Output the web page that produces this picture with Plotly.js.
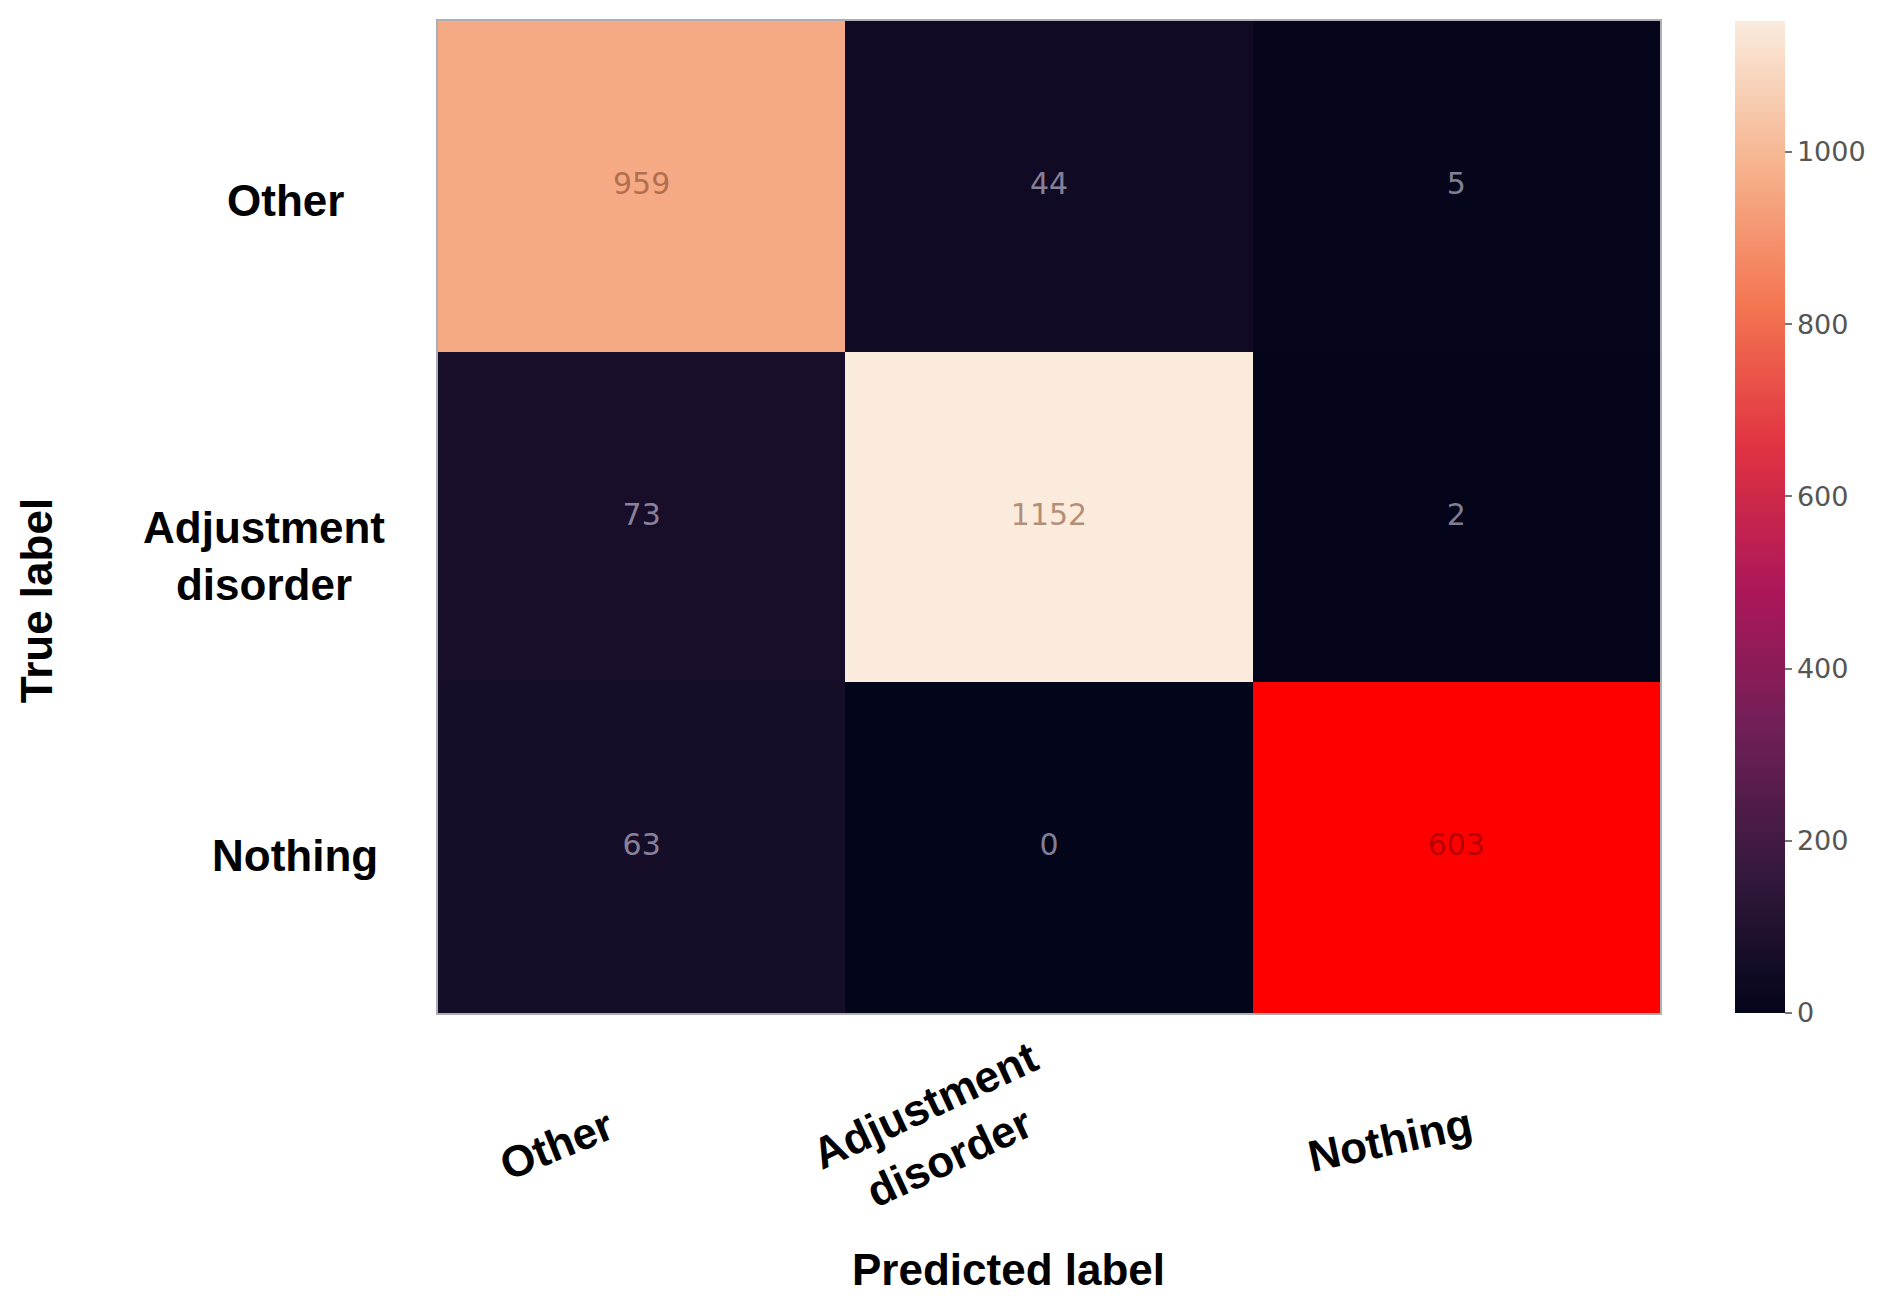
<!DOCTYPE html>
<html>
<head>
<meta charset="utf-8">
<script src="https://cdn.plot.ly/plotly-3.0.1.min.js"></script>
<style>
  body { margin: 0; background: #ffffff; }
  #chart { width: 1897px; height: 1300px; }
</style>
</head>
<body>
<div id="chart"></div>
<script>
// confusion matrix, rows = true label, cols = predicted label
const classes = ["Other", "Adjustment disorder", "Nothing"];
const rowOther = [959, 44, 5];
const rowAdjustment = [73, 1152, 2];
const rowNothing = [63, 0, 603];
const cbTicks = [0, 200, 400, 600, 800, 1000];

const counts = [rowOther, rowAdjustment, rowNothing];

// seaborn "rocket"
const rocket = [
  [0.0, "#03051a"],
  [0.143, "#35193e"],
  [0.286, "#701f57"],
  [0.429, "#ad1759"],
  [0.571, "#e13342"],
  [0.714, "#f37651"],
  [0.857, "#f6b48f"],
  [1.0, "#faebdd"]
];

const zmax = Math.max(...counts.flat());

const base = {
  type: "heatmap",
  x: classes,
  y: classes,
  z: counts,
  zmin: 0,
  zmax: zmax,
  colorscale: rocket,
  xgap: 0,
  ygap: 0,
  hoverinfo: "skip",
  colorbar: {
    x: 1.061,
    xanchor: "left",
    xpad: 0,
    y: 0.5,
    yanchor: "middle",
    ypad: 0,
    len: 1,
    lenmode: "fraction",
    thickness: 50,
    outlinewidth: 0,
    tickmode: "array",
    tickvals: cbTicks,
    ticks: "outside",
    ticklen: 7,
    tickwidth: 2,
    tickcolor: "#777",
    tickfont: { family: "DejaVu Sans", size: 27, color: "#555" }
  }
};

// the "Nothing" diagonal cell is shown in plain red in the figure
const redCell = {
  type: "heatmap",
  x: classes,
  y: classes,
  z: counts.map((row, i) => row.map((v, j) => (i === 2 && j === 2 ? v : null))),
  colorscale: [[0, "#ff0000"], [1, "#ff0000"]],
  showscale: false,
  hoverinfo: "skip"
};

// cell counts
const tx = [], ty = [], tt = [], tc = [];
counts.forEach((row, i) => {
  row.forEach((v, j) => {
    tx.push(classes[j]);
    ty.push(classes[i]);
    tt.push(String(v));
    if (v > 800) tc.push("rgba(120,60,30,0.55)");
    else if (v > 400) tc.push("rgba(90,0,0,0.45)");
    else tc.push("rgba(215,210,230,0.6)");
  });
});
const labels = {
  type: "scatter",
  mode: "text",
  x: tx,
  y: ty,
  text: tt,
  textposition: "middle center",
  textfont: { family: "DejaVu Sans", size: 30, color: tc },
  hoverinfo: "skip",
  showlegend: false
};

const labFont = { family: "Liberation Sans, Arial, sans-serif", size: 44, color: "#000" };

// tick labels placed as in the figure
const xLabText = ["Other", "Adjustment<br>disorder", "Nothing"];
const xShift = [-85, -112, -66];
const xLabY = [-0.133, -0.119, -0.128];
const xAngle = [-22, -25, -12];
const yLabText = ["Other", "Adjustment<br>disorder", "Nothing"];
const yLabShift = [-153, -174, -143];
const yLabDrop = [-14, -39, -8];

const annotations = [];
classes.forEach((c, i) => {
  annotations.push({
    xref: "x", yref: "paper", x: c, y: xLabY[i],
    xshift: xShift[i], xanchor: "center", yanchor: "middle",
    text: "<b>" + xLabText[i] + "</b>", textangle: xAngle[i],
    showarrow: false, font: labFont, align: "center"
  });
  annotations.push({
    xref: "paper", yref: "y", x: 0, y: c,
    xshift: yLabShift[i], yshift: yLabDrop[i],
    xanchor: "center", yanchor: "middle",
    text: "<b>" + yLabText[i] + "</b>",
    showarrow: false, font: labFont, align: "center"
  });
});
annotations.push({
  xref: "paper", yref: "paper", x: 0.467, y: -0.259,
  xanchor: "center", yanchor: "middle",
  text: "<b>Predicted label</b>", showarrow: false, font: labFont
});
annotations.push({
  xref: "paper", yref: "paper", x: -0.329, y: 0.416,
  xanchor: "center", yanchor: "middle", textangle: -90,
  text: "<b>True label</b>", showarrow: false, font: labFont
});

const layout = {
  width: 1897,
  height: 1300,
  margin: { l: 438, r: 237, t: 21, b: 287 },
  paper_bgcolor: "#ffffff",
  plot_bgcolor: "#ffffff",
  showlegend: false,
  xaxis: {
    type: "category",
    showticklabels: false,
    ticks: "",
    showgrid: false,
    zeroline: false,
    showline: true,
    mirror: true,
    linecolor: "rgba(140,140,150,0.7)",
    linewidth: 2
  },
  yaxis: {
    type: "category",
    autorange: "reversed",
    showticklabels: false,
    ticks: "",
    showgrid: false,
    zeroline: false,
    showline: true,
    mirror: true,
    linecolor: "rgba(140,140,150,0.7)",
    linewidth: 2
  },
  annotations: annotations
};

Plotly.newPlot("chart", [base, redCell, labels], layout, { displayModeBar: false, staticPlot: true });
</script>
</body>
</html>
